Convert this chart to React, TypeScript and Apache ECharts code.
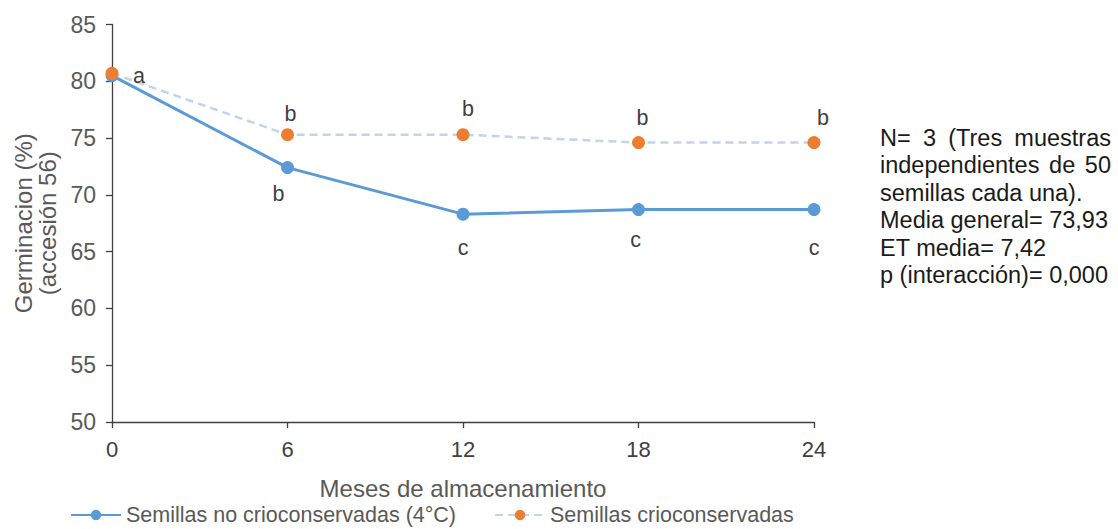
import React, { useEffect, useRef } from 'react';
import * as echarts from 'echarts';

const months = [0, 6, 12, 18, 24];
const noCrio = [80.5, 72.4, 68.3, 68.7, 68.7];
const crio = [80.7, 75.3, 75.3, 74.6, 74.6];
const lettersNoCrio = ['', 'b', 'c', 'c', 'c'];
const lettersCrio = ['a', 'b', 'b', 'b', 'b'];
const seriesNames = ['Semillas no crioconservadas (4°C)', 'Semillas crioconservadas'];
const xAxisName = 'Meses de almacenamiento';
const yAxisName = 'Germinacion (%)\n(accesión 56)';
const noteLines = [
  'N= 3 (Tres muestras',
  'independientes de 50',
  'semillas cada una).',
  'Media general= 73,93',
  'ET media= 7,42',
  'p (interacción)= 0,000',
];
const justifiedLines = [true, true, false, false, false, false];

// label placement (layout only)
const offsetsNoCrio = [[0, 0], [-9, 26], [0, 34], [-3, 30], [0, 38]];
const offsetsCrio = [[27, 3], [3, -21], [5, -26], [4, -25], [9, -25]];

const FONT = '"Liberation Sans", Arial, sans-serif';
const GRAY = '#595959';

function buildNote() {
  const size = 23.5;
  const left = 880;
  const right = 1111;
  const top = 138;
  const step = 27.4;
  const canvas = document.createElement('canvas');
  const ctx = canvas.getContext('2d')!;
  ctx.font = `${size}px "Liberation Sans"`;
  const els: any[] = [];
  noteLines.forEach((line, i) => {
    const y = top + i * step;
    if (justifiedLines[i]) {
      const words = line.split(' ');
      const widths = words.map((w) => ctx.measureText(w).width);
      const total = widths.reduce((a, b) => a + b, 0);
      const gap = (right - left - total) / (words.length - 1);
      let x = left;
      words.forEach((w, j) => {
        els.push({
          type: 'text', x, y,
          style: { text: w, font: `${size}px ${FONT}`, fill: '#1a1a1a', verticalAlign: 'middle', align: 'left' },
        });
        x += widths[j] + gap;
      });
    } else {
      els.push({
        type: 'text', x: left, y,
        style: { text: line, font: `${size}px ${FONT}`, fill: '#1a1a1a', verticalAlign: 'middle', align: 'left' },
      });
    }
  });
  return els;
}

export default function App() {
  const ref = useRef<HTMLDivElement>(null);
  useEffect(() => {
    document.body.style.margin = '0';
    const chart = echarts.init(ref.current!, null, { renderer: 'svg' });
    const labelStyle = { fontFamily: FONT, fontSize: 21.5, color: '#404040' };
    chart.setOption({
      animation: false,
      backgroundColor: '#ffffff',
      textStyle: { fontFamily: FONT },
      grid: { left: 112, right: 304, top: 24.5, bottom: 107, containLabel: false },
      xAxis: {
        type: 'value', min: 0, max: 24, interval: 6,
        name: xAxisName, nameLocation: 'middle', nameGap: 54,
        nameTextStyle: { fontFamily: FONT, fontSize: 24, color: GRAY },
        axisLine: { show: true, onZero: false, lineStyle: { color: '#404040', width: 1.3 } },
        axisTick: { show: true, length: 6, lineStyle: { color: '#404040', width: 1.3 } },
        axisLabel: { fontFamily: FONT, fontSize: 22, color: '#404040', margin: 16 },
        splitLine: { show: false },
      },
      yAxis: {
        type: 'value', min: 50, max: 85, interval: 5,
        name: yAxisName, nameLocation: 'middle', nameGap: 53, nameRotate: 90,
        nameTextStyle: { fontFamily: FONT, fontSize: 24, color: GRAY, lineHeight: 24 },
        axisLine: { show: true, lineStyle: { color: '#404040', width: 1.3 } },
        axisTick: { show: true, length: 6, lineStyle: { color: '#404040', width: 1.3 } },
        axisLabel: { fontFamily: FONT, fontSize: 23, color: GRAY, margin: 16 },
        splitLine: { show: false },
      },
      legend: {
        left: 65, top: 499, itemGap: 38, itemWidth: 50, itemHeight: 13,
        textStyle: { fontFamily: FONT, fontSize: 21.5, color: GRAY },
        data: seriesNames,
      },
      series: [
        {
          name: seriesNames[0], type: 'line',
          data: months.map((m, i) => ({
            value: [m, noCrio[i]],
            label: {
              show: lettersNoCrio[i] !== '', position: 'inside', offset: offsetsNoCrio[i],
              formatter: () => lettersNoCrio[i], ...labelStyle,
            },
          })),
          symbol: 'circle', symbolSize: 13,
          itemStyle: { color: '#5B9BD5' },
          lineStyle: { color: '#5B9BD5', width: 3 },
          z: 2,
        },
        {
          name: seriesNames[1], type: 'line',
          data: months.map((m, i) => ({
            value: [m, crio[i]],
            label: {
              show: lettersCrio[i] !== '', position: 'inside', offset: offsetsCrio[i],
              formatter: () => lettersCrio[i], ...labelStyle,
            },
          })),
          symbol: 'circle', symbolSize: 13,
          itemStyle: { color: '#ED7D31' },
          lineStyle: { color: '#C2D4EC', width: 2.5, type: [8, 5] },
          z: 3,
        },
      ],
      graphic: buildNote(),
    });
    return () => chart.dispose();
  }, []);
  return <div ref={ref} style={{ width: 1118, height: 529 }} />;
}
